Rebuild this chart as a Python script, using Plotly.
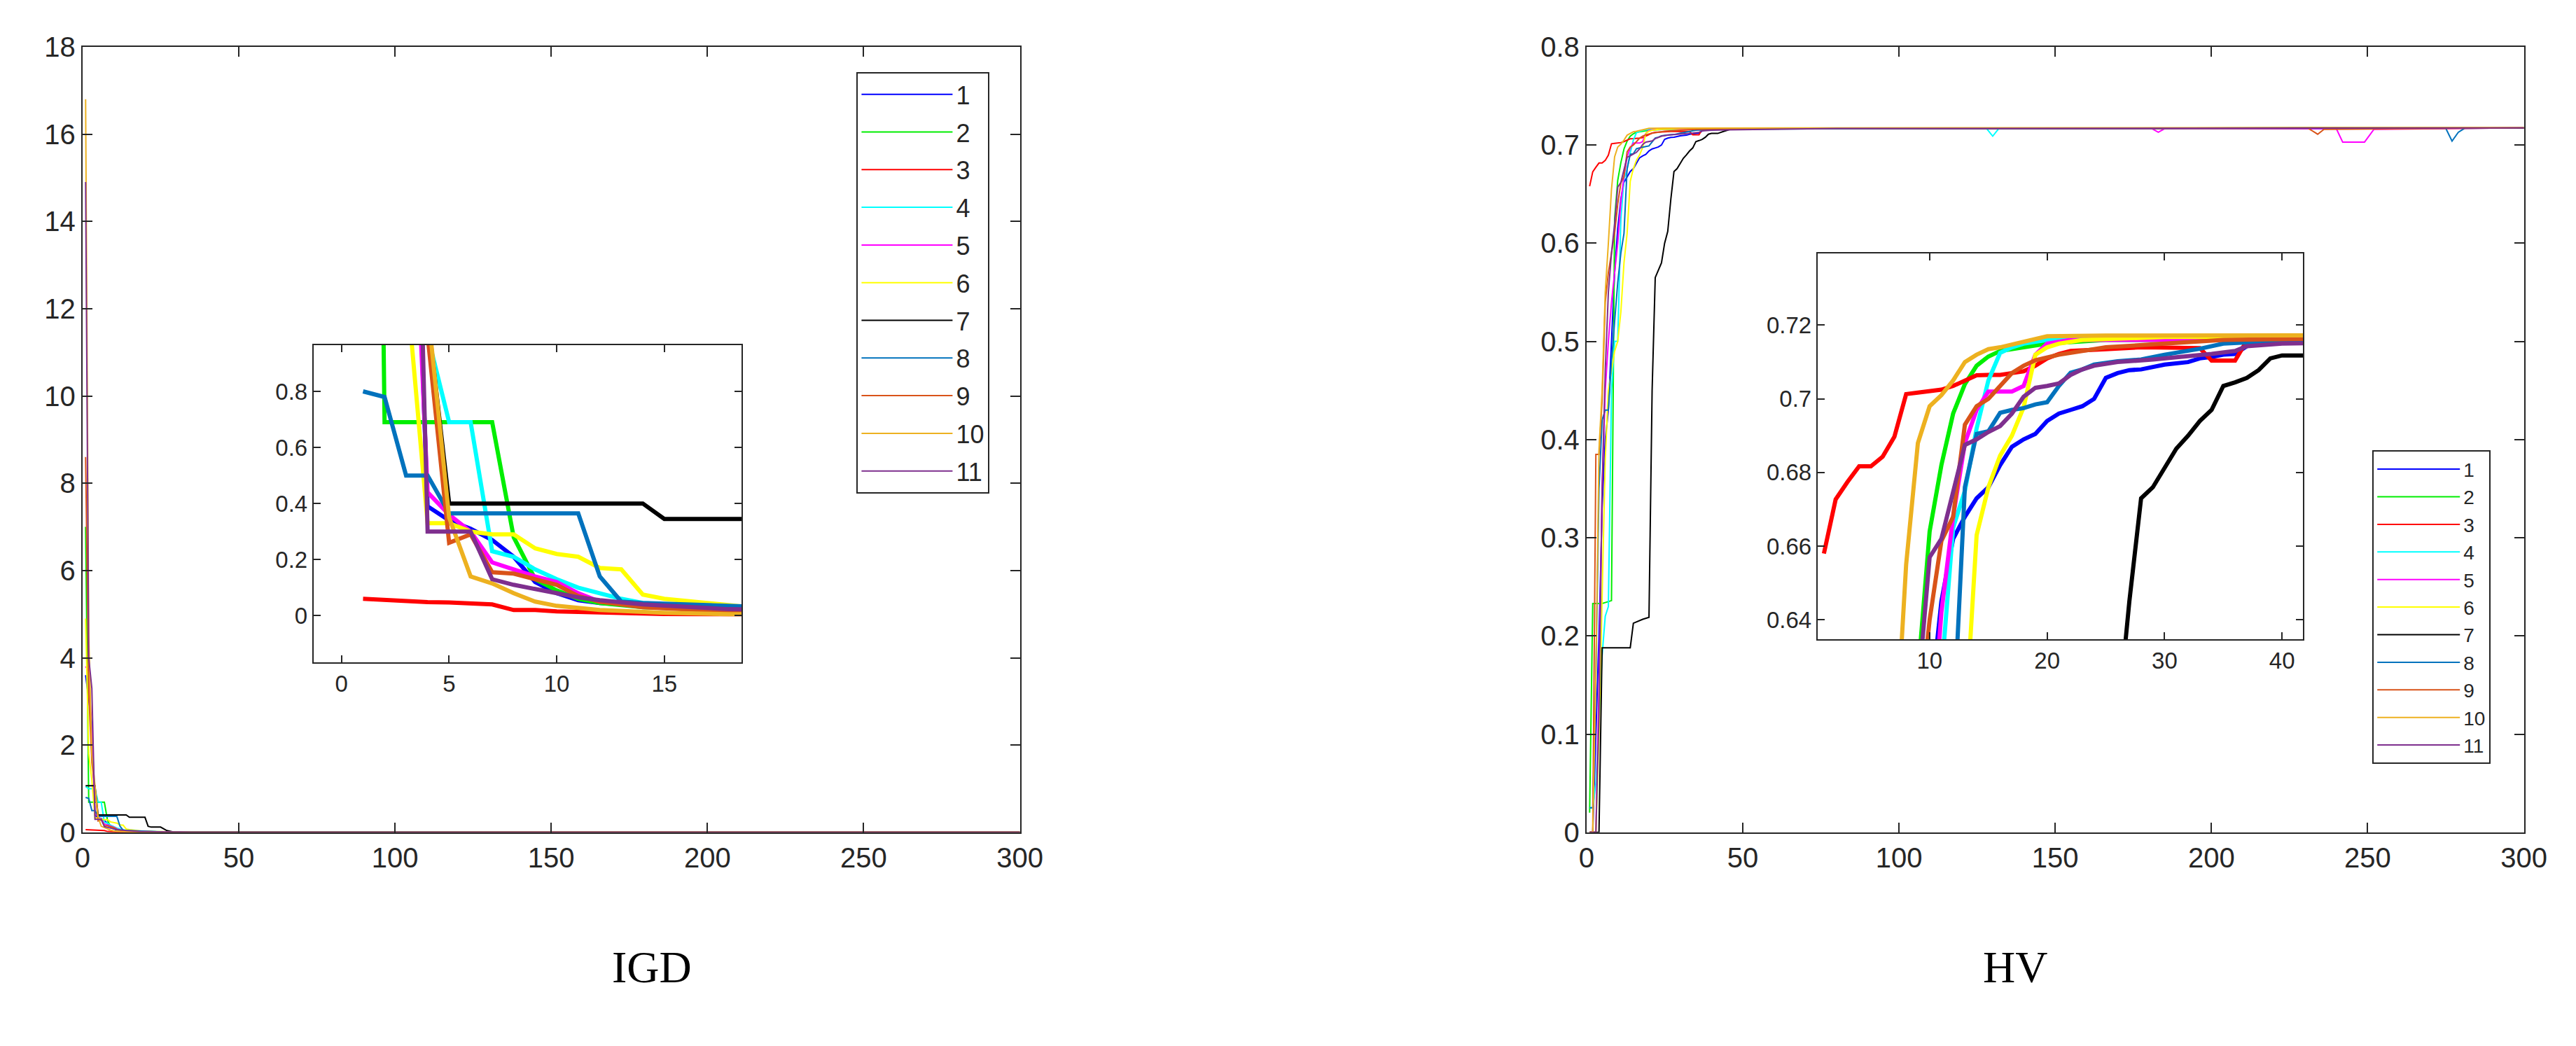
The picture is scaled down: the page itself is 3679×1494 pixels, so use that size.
import plotly.graph_objects as go

W, H = 3679, 1494

run_names = ['1', '2', '3', '4', '5', '6', '7', '8', '9', '10', '11']
run_colors = ['#0000FF', '#00EE00', '#FF0000', '#00FFFF', '#FF00FF', '#FFFF00',
              '#000000', '#0072BD', '#D95319', '#EDB120', '#7E2F8E']

# IGD per run: (iteration, value)
igd_1 = [(1, 3.6), (2, 3.0), (3, 2.5), (4, 0.39), (5, 0.34), (6, 0.31), (7, 0.27), (8, 0.21), (9, 0.12),
         (10, 0.08), (11, 0.055), (12, 0.045), (14, 0.035), (18, 0.022), (25, 0.01), (35, 0.002), (300, 0.0)]
igd_2 = [(1, 7.0), (2, 0.69), (3, 0.69), (4, 0.69), (5, 0.69), (6, 0.69), (7, 0.69), (8, 0.28), (9, 0.13),
         (10, 0.09), (11, 0.06), (12, 0.045), (14, 0.03), (18, 0.02), (25, 0.01), (30, 0.005), (300, 0.0)]
igd_3 = [(1, 0.06), (2, 0.055), (3, 0.05), (4, 0.048), (5, 0.047), (6, 0.045), (7, 0.04), (8, 0.02), (9, 0.02),
         (10, 0.015), (12, 0.01), (15, 0.006), (18, 0.005), (25, 0.002), (30, 0.0), (300, 0.0)]
igd_4 = [(1, 1.05), (2, 1.0), (3, 1.0), (4, 1.0), (5, 0.69), (6, 0.69), (7, 0.23), (8, 0.21), (9, 0.165),
         (10, 0.13), (11, 0.10), (12, 0.08), (13, 0.06), (14, 0.045), (16, 0.035), (18, 0.03), (20, 0.02),
         (25, 0.01), (30, 0.005), (300, 0.0)]
igd_5 = [(1, 3.8), (2, 3.7), (3, 2.2), (4, 0.44), (5, 0.36), (6, 0.30), (7, 0.19), (8, 0.165), (9, 0.14),
         (10, 0.12), (11, 0.08), (12, 0.05), (14, 0.035), (18, 0.02), (25, 0.01), (35, 0.002), (300, 0.0)]
igd_6 = [(1, 4.9), (2, 1.8), (3, 1.2), (4, 0.33), (5, 0.33), (6, 0.30), (7, 0.29), (8, 0.29), (9, 0.24),
         (10, 0.22), (11, 0.21), (12, 0.17), (13, 0.165), (14, 0.075), (15, 0.06), (17, 0.045), (18, 0.035),
         (19, 0.03), (22, 0.02), (28, 0.01), (35, 0.003), (300, 0.0)]
igd_7 = [(1, 1.07), (2, 1.07), (3, 1.07), (4, 1.07), (5, 0.40), (14, 0.40), (15, 0.345), (20, 0.345),
         (21, 0.14), (22, 0.12), (25, 0.12), (27, 0.04), (29, 0.01), (32, 0.0), (300, 0.0)]
igd_8 = [(1, 0.80), (2, 0.78), (3, 0.50), (4, 0.50), (5, 0.365), (11, 0.365), (12, 0.14), (13, 0.05),
         (14, 0.045), (18, 0.03), (25, 0.01), (30, 0.005), (300, 0.0)]
igd_9 = [(1, 8.6), (2, 3.2), (3, 1.6), (4, 1.0), (5, 0.26), (6, 0.29), (7, 0.155), (8, 0.15), (9, 0.13),
         (10, 0.11), (11, 0.07), (12, 0.05), (14, 0.03), (18, 0.015), (25, 0.005), (30, 0.0), (300, 0.0)]
igd_10 = [(1, 16.8), (2, 4.5), (3, 1.8), (4, 1.1), (5, 0.35), (6, 0.14), (7, 0.115), (8, 0.08), (9, 0.05),
          (10, 0.035), (12, 0.02), (15, 0.01), (18, 0.005), (25, 0.0), (300, 0.0)]
igd_11 = [(1, 14.9), (2, 4.0), (3, 3.3), (4, 0.30), (5, 0.30), (6, 0.30), (7, 0.13), (8, 0.11), (9, 0.095),
          (10, 0.08), (11, 0.065), (12, 0.055), (14, 0.04), (18, 0.023), (25, 0.01), (35, 0.002), (300, 0.0)]

# HV per run: (iteration, value)
hv_1 = [(1, 0), (2, 0), (3, 0.1), (4, 0.2), (5, 0.33), (6, 0.40), (7, 0.43), (8, 0.50), (9, 0.57), (10, 0.615),
        (11, 0.645), (12, 0.662), (13, 0.668), (14, 0.673), (15, 0.676), (16, 0.682), (17, 0.687), (18, 0.689),
        (19, 0.6905), (20, 0.694), (21, 0.696), (22, 0.697), (23, 0.698), (24, 0.700), (25, 0.7057), (26, 0.707),
        (27, 0.7078), (28, 0.708), (30, 0.7093), (32, 0.710), (33, 0.711), (34, 0.7114), (35, 0.712),
        (36, 0.7122), (37, 0.7143), (38, 0.7155), (42, 0.716), (50, 0.7165), (100, 0.717), (160, 0.7168),
        (220, 0.717), (300, 0.7175)]
hv_2 = [(1, 0.02), (2, 0.233), (3, 0.233), (4, 0.233), (5, 0.233), (6, 0.234), (7, 0.235), (8, 0.236),
        (9, 0.625), (10, 0.664), (11, 0.682), (12, 0.696), (13, 0.704), (14, 0.709), (15, 0.7115), (16, 0.713),
        (18, 0.714), (20, 0.715), (25, 0.716), (40, 0.7165), (80, 0.717), (150, 0.7172), (220, 0.717),
        (300, 0.7178)]
hv_3 = [(1, 0.658), (2, 0.6727), (3, 0.6774), (4, 0.6817), (5, 0.6817), (6, 0.6843), (7, 0.6897), (8, 0.7013),
        (9, 0.7017), (10, 0.702), (11, 0.7025), (12, 0.7035), (13, 0.705), (14, 0.7064), (15, 0.7065),
        (16, 0.7065), (17, 0.707), (18, 0.7075), (19, 0.709), (20, 0.711), (21, 0.7122), (22, 0.713),
        (25, 0.7135), (28, 0.714), (33, 0.7138), (34, 0.7104), (36, 0.7104), (37, 0.7158), (40, 0.7165),
        (50, 0.717), (120, 0.717), (200, 0.7168), (260, 0.7172), (300, 0.7175)]
hv_4 = [(1, 0.025), (2, 0.025), (3, 0.05), (4, 0.12), (5, 0.18), (6, 0.22), (7, 0.23), (8, 0.45), (9, 0.50),
        (10, 0.50), (11, 0.625), (12, 0.665), (13, 0.675), (14, 0.692), (15, 0.705), (16, 0.7125), (17, 0.714),
        (18, 0.715), (20, 0.716), (25, 0.7165), (60, 0.717), (128, 0.717), (130, 0.709), (132, 0.717),
        (200, 0.7172), (300, 0.7175)]
hv_5 = [(1, 0), (2, 0), (3, 0), (4, 0.15), (5, 0.35), (6, 0.45), (7, 0.50), (8, 0.54), (9, 0.57), (10, 0.60),
        (11, 0.642), (12, 0.668), (13, 0.688), (14, 0.697), (15, 0.702), (17, 0.702), (18, 0.7035), (19, 0.712),
        (20, 0.715), (22, 0.716), (30, 0.7165), (100, 0.717), (181, 0.7165), (183, 0.713), (185, 0.7165),
        (240, 0.7165), (242, 0.703), (249, 0.703), (252, 0.716), (300, 0.7175)]
hv_6 = [(1, 0), (2, 0), (3, 0), (4, 0.1), (5, 0.25), (6, 0.38), (7, 0.45), (8, 0.47), (9, 0.49), (10, 0.50),
        (11, 0.53), (12, 0.58), (13, 0.61), (14, 0.663), (15, 0.676), (16, 0.6846), (17, 0.69), (18, 0.6977),
        (19, 0.712), (20, 0.714), (21, 0.715), (23, 0.716), (30, 0.7168), (100, 0.7172), (200, 0.717),
        (300, 0.7178)]
hv_7 = [(1, 0), (4, 0), (5, 0.188), (14, 0.188), (15, 0.213), (18, 0.217), (20, 0.219), (21, 0.45), (22, 0.565),
        (23, 0.572), (24, 0.58), (25, 0.60), (26, 0.612), (27, 0.645), (28, 0.673), (29, 0.676), (30, 0.681),
        (31, 0.6865), (32, 0.69), (33, 0.694), (34, 0.697), (35, 0.7035), (36, 0.7045), (37, 0.7057),
        (38, 0.7078), (39, 0.711), (40, 0.7118), (42, 0.7118), (44, 0.714), (46, 0.716), (50, 0.717),
        (150, 0.7168), (230, 0.7175), (300, 0.7172)]
hv_8 = [(1, 0.025), (2, 0.025), (3, 0.16), (4, 0.35), (5, 0.42), (6, 0.43), (7, 0.43), (8, 0.48), (9, 0.52),
        (10, 0.56), (11, 0.59), (12, 0.61), (13, 0.676), (14, 0.6905), (15, 0.6912), (16, 0.6962), (17, 0.697),
        (18, 0.6975), (19, 0.6985), (20, 0.6991), (21, 0.7035), (22, 0.7071), (23, 0.708), (24, 0.7093),
        (26, 0.7102), (28, 0.7107), (30, 0.712), (33, 0.7136), (35, 0.715), (38, 0.7155), (45, 0.716),
        (100, 0.7168), (200, 0.717), (275, 0.717), (277, 0.704), (279, 0.713), (281, 0.717), (300, 0.7175)]
hv_9 = [(1, 0), (2, 0), (3, 0.385), (4, 0.385), (5, 0.44), (6, 0.54), (7, 0.57), (8, 0.59), (9, 0.61),
        (10, 0.64), (11, 0.6614), (12, 0.668), (13, 0.693), (14, 0.698), (15, 0.70), (16, 0.7035), (17, 0.707),
        (18, 0.709), (19, 0.7105), (21, 0.712), (25, 0.714), (30, 0.715), (35, 0.716), (60, 0.717),
        (150, 0.717), (231, 0.717), (234, 0.711), (236, 0.716), (300, 0.7175)]
hv_10 = [(1, 0), (2, 0), (3, 0.16), (4, 0.39), (5, 0.45), (6, 0.55), (7, 0.60), (8, 0.655), (9, 0.688),
         (10, 0.698), (11, 0.701), (12, 0.705), (13, 0.71), (14, 0.712), (15, 0.7135), (16, 0.714),
         (18, 0.7155), (20, 0.717), (25, 0.7172), (100, 0.7175), (200, 0.7178), (300, 0.718)]
hv_11 = [(1, 0), (3, 0), (4, 0.12), (5, 0.35), (6, 0.47), (7, 0.55), (8, 0.59), (9, 0.62), (10, 0.657),
         (11, 0.662), (12, 0.675), (13, 0.6875), (14, 0.689), (15, 0.691), (16, 0.6926), (17, 0.696),
         (18, 0.7006), (19, 0.703), (20, 0.7035), (21, 0.7042), (22, 0.7065), (23, 0.708), (24, 0.709),
         (26, 0.71), (29, 0.7107), (32, 0.7115), (34, 0.7122), (36, 0.713), (37, 0.7143), (40, 0.715),
         (45, 0.7155), (80, 0.7168), (180, 0.717), (300, 0.7175)]

igd_runs = [igd_1, igd_2, igd_3, igd_4, igd_5, igd_6, igd_7, igd_8, igd_9, igd_10, igd_11]
hv_runs = [hv_1, hv_2, hv_3, hv_4, hv_5, hv_6, hv_7, hv_8, hv_9, hv_10, hv_11]

AX = '#262626'
TICKFONT = 'Liberation Sans'

fig = go.Figure()


def add_runs(runs, xa, ya, width, tag, legend=None):
    for name, color, pts in zip(run_names, run_colors, runs):
        fig.add_trace(go.Scatter(
            x=[p[0] for p in pts], y=[p[1] for p in pts], mode='lines', name=name,
            line=dict(color=color, width=width),
            xaxis=xa, yaxis=ya,
            showlegend=legend is not None, legend=legend or 'legend',
            legendgroup=tag + name))


add_runs(igd_runs, 'x', 'y', 2, 'igd', legend='legend')
add_runs(igd_runs, 'x2', 'y2', 6, 'igdz')
add_runs(hv_runs, 'x3', 'y3', 2, 'hv', legend='legend2')
add_runs(hv_runs, 'x4', 'y4', 6, 'hvz')


def ax(domain, rng, size, ticklen, **kw):
    d = dict(domain=domain, range=rng, showgrid=False, zeroline=False,
             showline=True, linecolor=AX, linewidth=2, mirror='ticks',
             ticks='inside', ticklen=ticklen, tickwidth=2, tickcolor=AX,
             tickfont=dict(family=TICKFONT, size=size, color=AX))
    d.update(kw)
    return d


def px(a, b):
    return [a / W, b / W]


def py(top, bottom):
    return [1 - bottom / H, 1 - top / H]


fig.update_layout(
    width=W, height=H,
    margin=dict(l=0, r=0, t=0, b=0),
    paper_bgcolor='white', plot_bgcolor='white',
    xaxis=ax(px(100, 1455), [0, 300], 40, 14, tickvals=[0, 50, 100, 150, 200, 250, 300], anchor='y'),
    yaxis=ax(py(38, 1194), [0, 18], 40, 14, tickvals=list(range(0, 19, 2)), anchor='x'),
    xaxis2=ax(px(434, 1053), [-1.3, 18.6], 33, 10, tickvals=[0, 5, 10, 15], anchor='y2'),
    yaxis2=ax(py(477, 944), [-0.167, 0.965], 33, 10, tickvals=[0, 0.2, 0.4, 0.6, 0.8],
              ticktext=['0', '0.2', '0.4', '0.6', '0.8'], anchor='x2'),
    xaxis3=ax(px(2274, 3629), [0, 300], 40, 14, tickvals=[0, 50, 100, 150, 200, 250, 300], anchor='y3'),
    yaxis3=ax(py(38, 1194), [0, 0.8], 40, 14, tickvals=[0, 0.1, 0.2, 0.3, 0.4, 0.5, 0.6, 0.7, 0.8],
              ticktext=['0', '0.1', '0.2', '0.3', '0.4', '0.5', '0.6', '0.7', '0.8'], anchor='x3'),
    xaxis4=ax(px(2608, 3310), [0.46, 41.8], 33, 10, tickvals=[10, 20, 30, 40], anchor='y4'),
    yaxis4=ax(py(342, 910), [0.6347, 0.7395], 33, 10, tickvals=[0.64, 0.66, 0.68, 0.70, 0.72],
              ticktext=['0.64', '0.66', '0.68', '0.7', '0.72'], anchor='x4'),
    legend=dict(x=1219 / W, y=1 - 75 / H, xanchor='left', yanchor='top',
                bgcolor='white', bordercolor=AX, borderwidth=2,
                font=dict(family=TICKFONT, size=36, color=AX),
                itemwidth=130, tracegroupgap=4, traceorder='grouped'),
    legend2=dict(x=3410 / W, y=1 - 632 / H, xanchor='left', yanchor='top',
                 bgcolor='white', bordercolor=AX, borderwidth=2,
                 font=dict(family=TICKFONT, size=28, color=AX),
                 itemwidth=118, tracegroupgap=0, traceorder='grouped'),
    annotations=[
        dict(text='IGD', x=863 / W, y=1 - 1431 / H, xref='paper', yref='paper', showarrow=False,
             font=dict(family='Liberation Serif', size=64, color='black')),
        dict(text='HV', x=2942 / W, y=1 - 1431 / H, xref='paper', yref='paper', showarrow=False,
             font=dict(family='Liberation Serif', size=64, color='black')),
    ],
)

fig.write_html('out.html')
